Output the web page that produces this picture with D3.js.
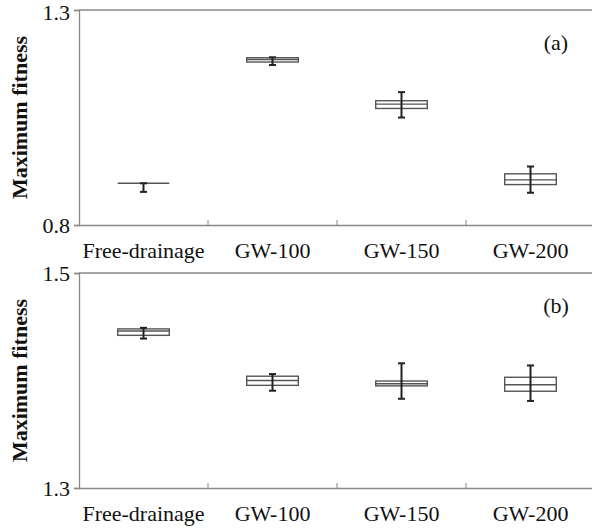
<!DOCTYPE html>
<html>
<head>
<meta charset="utf-8">
<script src="https://cdn.jsdelivr.net/npm/d3@7"></script>
<style>
  body { margin: 0; background: #fff; }
  svg { display: block; font-family: "Liberation Serif", "Times New Roman", serif; }
</style>
</head>
<body>
<div id="chart"></div>
<script>
const categories = ["Free-drainage", "GW-100", "GW-150", "GW-200"];

// panel (a)
const aLow    = [0.877, 1.172, 1.050, 0.875];
const aQ1     = [0.897, 1.179, 1.071, 0.894];
const aMedian = [0.897, 1.185, 1.081, 0.905];
const aQ3     = [0.897, 1.189, 1.089, 0.919];
const aHigh   = [0.897, 1.190, 1.109, 0.936];
const aTicks  = [0.8, 1.3];

// panel (b)
const bLow    = [1.439, 1.3905, 1.383, 1.381];
const bQ1     = [1.442, 1.3955, 1.395, 1.390];
const bMedian = [1.446, 1.400, 1.397, 1.396];
const bQ3     = [1.448, 1.404, 1.3995, 1.403];
const bHigh   = [1.449, 1.406, 1.416, 1.414];
const bTicks  = [1.3, 1.5];

const width = 592, height = 530;
const left = 79, right = 595;

const svg = d3.select("#chart").append("svg")
    .attr("width", width)
    .attr("height", height);

function panel(opts) {
    const rows = categories.map((c, i) => ({
        cat: c, low: opts.low[i], q1: opts.q1[i], med: opts.med[i], q3: opts.q3[i], high: opts.high[i]
    }));

    const x = d3.scaleBand().domain(categories).range([left, right]);
    const y = d3.scaleLinear().domain(opts.ticks).range([opts.bottom, opts.top]);
    const bw = x.bandwidth() * 0.4;

    const g = svg.append("g");

    // top border line
    g.append("line")
        .attr("x1", left).attr("x2", right)
        .attr("y1", y(opts.ticks[1])).attr("y2", y(opts.ticks[1]))
        .attr("stroke", "#888").attr("stroke-width", 1.3);

    // y axis
    const yAxis = g.append("g")
        .attr("transform", "translate(" + left + ",0)")
        .call(d3.axisLeft(y).tickValues(opts.ticks).tickFormat(d3.format(".1f")).tickSize(5).tickPadding(4));
    yAxis.select(".domain").attr("stroke", "#888").attr("stroke-width", 1.3);
    yAxis.selectAll(".tick line").attr("stroke", "#888").attr("stroke-width", 1.3);
    yAxis.selectAll("text").attr("font-size", 22).attr("fill", "#111")
        .attr("font-family", "Liberation Serif, serif")
        .attr("dy", (d, i) => (i === 1 && opts.top < 20) ? "0.42em" : "0.32em");

    // x axis
    const xAxis = g.append("g")
        .attr("transform", "translate(0," + opts.bottom + ")")
        .call(d3.axisBottom(x).tickSize(0).tickPadding(17));
    xAxis.select(".domain").attr("stroke", "#888").attr("stroke-width", 1.3);
    xAxis.selectAll("text").attr("font-size", 22).attr("fill", "#111")
        .attr("font-family", "Liberation Serif, serif");

    // inward ticks between categories
    g.selectAll(".sep")
        .data(categories.slice(1))
        .enter().append("line")
        .attr("x1", d => x(d)).attr("x2", d => x(d))
        .attr("y1", opts.bottom).attr("y2", opts.bottom - 5)
        .attr("stroke", "#888").attr("stroke-width", 1);

    const box = g.selectAll(".box")
        .data(rows)
        .enter().append("g");

    const cx = d => x(d.cat) + x.bandwidth() / 2;

    box.append("rect")
        .attr("x", d => cx(d) - bw / 2)
        .attr("width", bw)
        .attr("y", d => y(d.q3))
        .attr("height", d => Math.max(0, y(d.q1) - y(d.q3)))
        .attr("fill", "#fff")
        .attr("stroke", "#555")
        .attr("stroke-width", 1.4);

    box.append("line")
        .attr("x1", d => cx(d) - bw / 2).attr("x2", d => cx(d) + bw / 2)
        .attr("y1", d => y(d.med)).attr("y2", d => y(d.med))
        .attr("stroke", "#555").attr("stroke-width", 1.4);

    box.append("line")
        .attr("x1", cx).attr("x2", cx)
        .attr("y1", d => y(d.low)).attr("y2", d => y(d.high))
        .attr("stroke", "#222").attr("stroke-width", 2);

    ["low", "high"].forEach(k => {
        box.append("line")
            .attr("x1", d => cx(d) - 3.5).attr("x2", d => cx(d) + 3.5)
            .attr("y1", d => y(d[k])).attr("y2", d => y(d[k]))
            .attr("stroke", "#222").attr("stroke-width", 2);
    });

    // panel letter
    g.append("text")
        .attr("x", 556).attr("y", opts.top + 40)
        .attr("text-anchor", "middle")
        .attr("font-size", 22)
        .attr("fill", "#111")
        .text(opts.letter);

    // y label
    g.append("text")
        .attr("transform", "translate(27," + ((opts.top + opts.bottom) / 2) + ") rotate(-90)")
        .attr("text-anchor", "middle")
        .attr("font-size", 22)
        .attr("font-weight", "bold")
        .attr("fill", "#111")
        .text("Maximum fitness");
}

panel({ low: aLow, q1: aQ1, med: aMedian, q3: aQ3, high: aHigh, ticks: aTicks, top: 10, bottom: 225, letter: "(a)" });
panel({ low: bLow, q1: bQ1, med: bMedian, q3: bQ3, high: bHigh, ticks: bTicks, top: 273, bottom: 488, letter: "(b)" });
</script>
</body>
</html>
